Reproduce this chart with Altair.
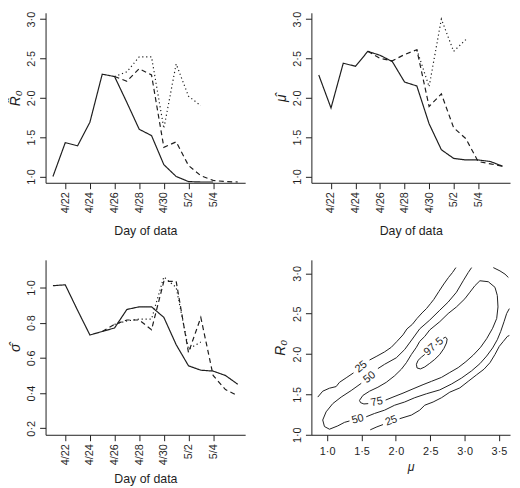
import json
import altair as alt
import pandas as pd

# ---------------- time-series panels ----------------
day_labels = ["4/21", "4/22", "4/23", "4/24", "4/25", "4/26", "4/27", "4/28",
              "4/29", "4/30", "5/1", "5/2", "5/3", "5/4", "5/5", "5/6"]
tick_days = [1, 3, 5, 7, 9, 11, 13]

# R0 hat (top-left)
r0_solid_start = 0
r0_solid = [1.00, 1.43, 1.39, 1.69, 2.30, 2.27, 1.94, 1.60, 1.52, 1.15, 1.00, 0.935, 0.93, 0.93]
r0_dashed_start = 5
r0_dashed = [2.27, 2.21, 2.37, 2.29, 1.37, 1.44, 1.14, 1.01, 0.95, 0.935, 0.93]
r0_dotted_start = 5
r0_dotted = [2.27, 2.33, 2.52, 2.52, 1.61, 2.43, 2.02, 1.90]

# mu hat (top-right)
mu_solid_start = 0
mu_solid = [2.29, 1.87, 2.44, 2.40, 2.59, 2.54, 2.46, 2.20, 2.15, 1.67, 1.34, 1.23, 1.21, 1.21, 1.19, 1.13]
mu_dashed_start = 4
mu_dashed = [2.59, 2.50, 2.47, 2.55, 2.61, 1.89, 2.05, 1.62, 1.48, 1.19, 1.16, 1.13]
mu_dotted_start = 8
mu_dotted = [2.61, 2.14, 3.00, 2.59, 2.74]

# sigma hat (bottom-left)
sig_solid_start = 0
sig_solid = [1.01, 1.015, 0.87, 0.73, 0.75, 0.77, 0.875, 0.89, 0.89, 0.83, 0.675, 0.555, 0.53, 0.525, 0.50, 0.45]
sig_dashed_start = 4
sig_dashed = [0.75, 0.79, 0.815, 0.815, 0.76, 1.035, 1.035, 0.63, 0.83, 0.50, 0.42, 0.385]
sig_dotted_start = 5
sig_dotted = [0.79, 0.81, 0.82, 0.82, 1.06, 1.00, 0.65, 0.69]

# ---------------- contour panel (bottom-right) ----------------
c25a_mu = [0.864, 0.936, 1.034, 1.131, 1.180, 1.287, 1.384]
c25a_r0 = [1.467, 1.540, 1.577, 1.597, 1.650, 1.711, 1.767]
c25b_mu = [1.617, 1.724, 1.836, 1.934, 2.016, 2.104, 2.162, 2.240, 2.308, 2.381, 2.445, 2.503, 2.552, 2.625, 2.698, 2.766, 2.824, 2.873]
c25b_r0 = [1.926, 1.974, 2.027, 2.084, 2.157, 2.238, 2.312, 2.368, 2.441, 2.510, 2.563, 2.624, 2.677, 2.774, 2.868, 2.949, 3.010, 3.071]
c25c_mu = [1.627, 1.724, 1.812]
c25c_r0 = [1.061, 1.098, 1.126]
c25d_mu = [2.055, 2.226, 2.347, 2.420, 2.542, 2.664, 2.785, 2.931, 3.053, 3.175, 3.282, 3.369, 3.442, 3.505, 3.564, 3.622, 3.651]
c25d_r0 = [1.199, 1.244, 1.305, 1.366, 1.406, 1.459, 1.528, 1.581, 1.662, 1.743, 1.812, 1.893, 1.995, 2.096, 2.157, 2.218, 2.230]
c25e_mu = [3.418, 3.515, 3.588, 3.637]
c25e_r0 = [3.071, 3.030, 2.990, 2.949]
c50a_mu = [3.102, 3.053, 2.980, 2.882, 2.761, 2.639, 2.493, 2.347, 2.240, 2.128, 2.007, 1.836, 1.739]
c50a_r0 = [3.071, 3.010, 2.908, 2.766, 2.644, 2.543, 2.421, 2.312, 2.186, 2.056, 1.954, 1.873, 1.820]
c50b_mu = [1.496, 1.350, 1.204, 1.082, 0.985, 0.936, 0.961, 1.034, 1.155, 1.253, 1.325]
c50b_r0 = [1.637, 1.548, 1.467, 1.386, 1.284, 1.183, 1.102, 1.069, 1.110, 1.154, 1.171]
c50c_mu = [1.569, 1.690, 1.836, 1.982, 2.128, 2.274, 2.445, 2.639, 2.810, 2.956, 3.102, 3.223, 3.321, 3.408, 3.476, 3.525, 3.574, 3.612, 3.651]
c50c_r0 = [1.223, 1.264, 1.305, 1.366, 1.406, 1.459, 1.508, 1.556, 1.629, 1.703, 1.792, 1.881, 1.975, 2.076, 2.178, 2.279, 2.401, 2.502, 2.563]
c75_mu = [1.851, 1.958, 2.104, 2.250, 2.396, 2.518, 2.664, 2.785, 2.907, 3.019, 3.126, 3.233, 3.321, 3.408,
          3.467, 3.486, 3.476, 3.442, 3.345, 3.223, 3.150, 3.077, 3.004, 2.882, 2.761, 2.639, 2.493, 2.420,
          2.347, 2.299, 2.226, 2.153, 2.080, 1.982, 1.861, 1.739, 1.617, 1.520, 1.471, 1.486, 1.535, 1.598]
c75_r0 = [1.430, 1.467, 1.516, 1.569, 1.621, 1.662, 1.711, 1.772, 1.832, 1.906, 1.987, 2.084, 2.190, 2.320,
          2.441, 2.584, 2.726, 2.827, 2.896, 2.908, 2.847, 2.766, 2.685, 2.584, 2.502, 2.401, 2.299, 2.218,
          2.157, 2.084, 1.995, 1.893, 1.812, 1.731, 1.650, 1.589, 1.540, 1.487, 1.426, 1.398, 1.382, 1.386]
c975_mu = [2.420, 2.372, 2.323, 2.299, 2.308, 2.357, 2.420, 2.493, 2.566, 2.639, 2.698, 2.737, 2.746, 2.722, 2.688]
c975_r0 = [1.995, 1.962, 1.922, 1.873, 1.828, 1.816, 1.840, 1.885, 1.934, 1.995, 2.068, 2.137, 2.186, 2.210, 2.194]

label_text = ["25", "50", "50", "25", "75", "97·5"]
label_mu = [1.496, 1.617, 1.447, 1.934, 1.724, 2.552]
label_r0 = [1.840, 1.711, 1.191, 1.171, 1.406, 2.092]
label_angle = [321, 321, 345, 340, 348, 319]

FONT = "Liberation Sans"
INK = "#1e1e1e"
dot_expr = "replace(format(datum.value, '.1f'), '.', '·')"
day_expr = json.dumps(day_labels) + "[datum.value]"


def frame(parts):
    rows = []
    for name, start, vals in parts:
        for i, v in enumerate(vals):
            rows.append({"day": start + i, "value": v, "series": name})
    return pd.DataFrame(rows)


def ts_panel(df, ydomain, yticks, ytitle, width, height, xtitle_pad):
    x = alt.X("day:Q", scale=alt.Scale(domain=[-0.6, 15.6], nice=False, zero=False),
              axis=alt.Axis(values=tick_days, labelExpr=day_expr, labelAngle=270,
                            labelAlign="right", labelBaseline="middle", labelPadding=3,
                            title="Day of data", titlePadding=xtitle_pad))
    y = alt.Y("value:Q", scale=alt.Scale(domain=ydomain, nice=False, zero=False),
              axis=alt.Axis(values=yticks, labelExpr=dot_expr, labelAngle=270,
                            labelAlign="center", labelBaseline="bottom", labelPadding=3,
                            title=ytitle, titleFontStyle="italic", titleFontSize=14, titlePadding=3))
    return alt.Chart(df).mark_line(color=INK, strokeWidth=1.2, strokeCap="butt").encode(
        x=x, y=y,
        strokeDash=alt.StrokeDash("series:N", scale=alt.Scale(
            domain=["solid", "dashed", "dotted"], range=[[1, 0], [5, 3.5], [1.2, 2.8]]), legend=None),
        detail="series:N",
        order="day:Q",
    ).properties(width=width, height=height)


df1 = frame([("solid", r0_solid_start, r0_solid), ("dashed", r0_dashed_start, r0_dashed),
             ("dotted", r0_dotted_start, r0_dotted)])
df2 = frame([("solid", mu_solid_start, mu_solid), ("dashed", mu_dashed_start, mu_dashed),
             ("dotted", mu_dotted_start, mu_dotted)])
df3 = frame([("solid", sig_solid_start, sig_solid), ("dashed", sig_dashed_start, sig_dashed),
             ("dotted", sig_dotted_start, sig_dotted)])

W1, W2, H1, H2 = 202, 201, 172, 177

p1 = ts_panel(df1, [0.92, 3.08], [1.0, 1.5, 2.0, 2.5, 3.0], "R\u0302\u2080", W1, H1, 12)
p2 = ts_panel(df2, [0.92, 3.08], [1.0, 1.5, 2.0, 2.5, 3.0], "\u03bc\u0302", W2, H1, 12)
p3 = ts_panel(df3, [0.1632, 1.1568], [0.2, 0.4, 0.6, 0.8, 1.0], "\u03c3\u0302", W1, H2, 8)

segs = [("25a", c25a_mu, c25a_r0), ("25b", c25b_mu, c25b_r0), ("25c", c25c_mu, c25c_r0),
        ("25d", c25d_mu, c25d_r0), ("25e", c25e_mu, c25e_r0), ("50a", c50a_mu, c50a_r0),
        ("50b", c50b_mu, c50b_r0), ("50c", c50c_mu, c50c_r0), ("75", c75_mu, c75_r0),
        ("975", c975_mu, c975_r0)]
crow = []
for name, ms, rs in segs:
    for i, (m, r) in enumerate(zip(ms, rs)):
        crow.append({"mu": m, "r0": r, "seg": name, "ord": i})
cdf = pd.DataFrame(crow)
ldf = pd.DataFrame({"mu": label_mu, "r0": label_r0, "text": label_text, "angle": label_angle})

xs4 = alt.Scale(domain=[0.771, 3.661], nice=False, zero=False)
ys4 = alt.Scale(domain=[1.0, 3.167], nice=False, zero=False)
lines4 = alt.Chart(cdf).mark_line(color=INK, strokeWidth=1.0).encode(
    x=alt.X("mu:Q", scale=xs4, axis=alt.Axis(values=[1.0, 1.5, 2.0, 2.5, 3.0, 3.5], labelExpr=dot_expr,
                                             labelAngle=0, labelPadding=5, title="\u03bc",
                                             titleFontStyle="italic", titlePadding=4)),
    y=alt.Y("r0:Q", scale=ys4, axis=alt.Axis(values=[1.0, 1.5, 2.0, 2.5, 3.0], labelExpr=dot_expr,
                                             labelAngle=270, labelAlign="center", labelBaseline="bottom",
                                             labelPadding=3, title="R\u2080", titleFontStyle="italic",
                                             titleFontSize=14, titlePadding=4)),
    detail="seg:N",
    order="ord:Q",
)
labels4 = alt.Chart(ldf).mark_text(font=FONT, fontSize=11, color=INK).encode(
    x=alt.X("mu:Q", scale=xs4), y=alt.Y("r0:Q", scale=ys4), text="text:N",
    angle=alt.Angle("angle:Q", scale=None),
)
p4 = alt.layer(lines4, labels4).properties(width=W2, height=H2)

chart = alt.concat(p1, p2, p3, p4, columns=2, spacing={"row": 78, "column": 67}, bounds="flush").properties(
    padding=0
).configure_view(stroke=None).configure_axis(
    grid=False, domainColor=INK, tickColor=INK, labelColor=INK, titleColor=INK,
    domainWidth=1, tickWidth=1, tickSize=6, labelFont=FONT, titleFont=FONT,
    labelFontSize=11, titleFontSize=12.5, titleFontWeight="normal", labelOverlap=False,
    labelBound=False,
)

chart.save("out.html", embed_options={"renderer": "svg", "actions": False})
